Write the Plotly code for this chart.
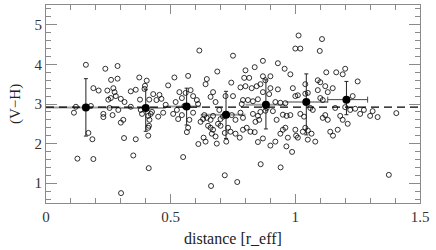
import plotly.graph_objects as go

# individual measurements (open circles)
pts = [
    (0.112,2.78),(0.12,2.93),(0.126,1.62),(0.16,3.99),(0.17,2.27),(0.186,2.11),(0.19,1.61),(0.19,3.40),(0.211,3.34),(0.18,2.95),
    (0.238,3.89),(0.287,3.96),(0.261,3.61),(0.287,3.64),(0.246,3.34),(0.27,3.40),(0.275,3.30),(0.25,3.11),(0.26,3.15),(0.28,3.20),
    (0.23,2.75),(0.267,2.72),(0.29,2.85),(0.23,2.67),(0.30,3.13),(0.255,2.90),
    (0.315,3.05),(0.34,3.32),(0.36,3.36),(0.374,3.67),(0.397,3.46),(0.377,3.11),(0.31,2.60),(0.30,2.53),(0.34,2.93),(0.313,2.14),
    (0.36,2.11),(0.35,1.70),(0.301,0.75),(0.38,2.85),(0.385,2.75),(0.395,3.38),
    (0.404,3.59),(0.414,3.11),(0.455,3.23),(0.463,3.13),(0.443,3.10),(0.49,3.47),(0.42,2.75),(0.425,2.80),(0.41,2.70),(0.415,2.60),
    (0.413,2.45),(0.41,2.20),(0.412,1.38),(0.41,2.40),(0.45,2.68),(0.47,2.78),(0.48,2.98),(0.43,3.25),
    (0.515,3.67),(0.57,3.71),(0.535,3.30),(0.56,3.28),(0.545,3.15),(0.52,3.05),(0.58,3.35),(0.59,3.20),(0.55,1.66),(0.565,2.29),
    (0.51,2.75),(0.53,2.62),(0.545,2.72),(0.57,2.40),(0.525,2.85),(0.59,2.78),(0.555,2.95),(0.575,2.60),
    (0.615,4.35),(0.645,3.63),(0.64,3.50),(0.67,3.30),(0.687,3.82),(0.66,3.18),(0.68,3.05),(0.611,1.99),(0.632,2.15),(0.66,2.40),
    (0.67,2.35),(0.665,2.25),(0.68,2.18),(0.685,2.00),(0.662,0.93),(0.63,2.62),(0.635,2.72),(0.645,2.65),(0.66,2.60),(0.67,2.70),
    (0.65,2.45),(0.69,2.50),(0.695,2.85),(0.61,3.00),(0.62,2.55),(0.64,2.05),(0.605,3.10),
    (0.717,2.27),(0.723,2.05),(0.717,1.20),(0.767,1.03),(0.777,2.15),(0.75,4.22),(0.743,3.54),(0.72,3.20),(0.75,3.20),(0.78,3.42),
    (0.79,3.10),(0.72,2.75),(0.745,2.72),(0.78,2.78),(0.70,2.62),(0.71,2.68),(0.73,2.40),(0.74,2.30),(0.76,2.25),(0.79,2.35),
    (0.70,2.45),(0.76,2.60),(0.79,2.65),(0.795,3.66),(0.785,3.00),
    (0.80,3.85),(0.837,3.93),(0.87,4.09),(0.815,3.66),(0.87,3.70),(0.88,3.60),(0.80,3.45),(0.825,3.40),(0.845,3.45),(0.86,3.50),
    (0.90,3.40),(0.81,3.10),(0.83,3.07),(0.85,3.12),(0.83,2.75),(0.85,2.70),(0.805,2.40),(0.837,2.29),(0.85,2.04),(0.87,2.13),
    (0.90,1.95),(0.861,1.48),(0.855,2.60),(0.84,2.55),(0.82,2.30),(0.88,2.83),(0.885,2.90),(0.895,3.25),(0.87,3.30),(0.86,2.80),
    (0.93,4.03),(0.957,3.89),(0.90,3.70),(0.98,3.75),(0.93,3.37),(0.99,3.40),(0.92,3.05),(0.94,3.03),(0.96,3.02),(0.91,2.82),
    (0.95,2.73),(0.965,2.70),(0.98,2.72),(0.941,1.40),(0.95,2.35),(0.96,2.40),(0.964,1.93),(0.987,1.79),(0.925,2.60),(0.94,2.25),
    (0.97,2.15),(0.92,2.05),
    (1.013,4.73),(1.00,4.40),(1.02,4.40),(1.098,4.34),(1.00,3.20),(1.01,3.22),(1.04,3.50),(1.04,3.26),(1.05,3.28),(1.00,2.35),
    (1.003,2.20),(1.03,2.30),(1.04,2.40),(1.05,2.33),(1.02,2.75),(1.035,2.68),(1.06,2.90),(1.07,2.85),(1.01,2.15),(1.05,2.10),
    (1.065,2.25),(1.08,2.05),(1.09,3.35),(1.09,3.60),
    (1.107,4.64),(1.124,3.80),(1.164,3.80),(1.19,3.75),(1.10,3.55),(1.12,3.45),(1.13,3.30),(1.15,3.40),(1.10,3.15),(1.11,3.10),
    (1.151,2.20),(1.17,2.35),(1.14,2.30),(1.11,2.65),(1.12,2.72),(1.13,2.60),(1.16,2.90),(1.18,2.70),(1.19,2.60),
    (1.20,3.89),(1.25,3.57),(1.20,2.92),(1.22,2.85),(1.24,2.88),(1.275,2.85),(1.31,2.82),(1.405,2.77),(1.30,2.70),(1.33,2.67),
    (1.375,1.21),(1.21,2.50),(1.23,3.20),(1.26,2.75),
]
dist = [p[0] for p in pts]
vh = [p[1] for p in pts]

# binned means
bin_x = [0.16, 0.40, 0.564, 0.722, 0.882, 1.044, 1.205]
bin_y = [2.91, 2.90, 2.94, 2.73, 2.98, 3.05, 3.11]
err_up = [0.73, 0.46, 0.46, 0.59, 0.63, 0.71, 0.46]
err_dn = [0.72, 0.59, 0.47, 0.60, 0.61, 0.83, 0.38]
bin_lo = [0.00, 0.30, 0.48, 0.62, 0.80, 0.96, 1.13]
bin_hi = [0.30, 0.48, 0.62, 0.80, 0.96, 1.13, 1.29]
mean_level = 2.92

xr = [0.0, 1.5]
yr = [0.5, 5.5]
x_ticks = [0, 0.5, 1, 1.5]
x_labels = ["0", "0.5", "1", "1.5"]
y_ticks = [1, 2, 3, 4, 5]
y_labels = ["1", "2", "3", "4", "5"]

SERIF = "Liberation Serif"

fig = go.Figure()

# grey horizontal bin extents
fig.add_trace(go.Scatter(
    x=bin_x[:-1], y=bin_y[:-1], mode="markers",
    marker=dict(size=1, color="rgba(0,0,0,0)"),
    error_x=dict(type="data", symmetric=False,
                 array=[h - c for h, c in zip(bin_hi[:-1], bin_x[:-1])],
                 arrayminus=[c - l for l, c in zip(bin_lo[:-1], bin_x[:-1])],
                 color="#a0a0a0", thickness=2, width=0),
    hoverinfo="skip", showlegend=False))

# mean level dashed line
fig.add_trace(go.Scatter(x=xr, y=[mean_level, mean_level], mode="lines",
                         line=dict(color="black", width=1.3, dash="8px,5px"),
                         showlegend=False))

# open circles
fig.add_trace(go.Scatter(x=dist, y=vh, mode="markers",
                         marker=dict(symbol="circle-open", size=5, color="black",
                                     line=dict(width=0.8, color="black")),
                         showlegend=False))

# last bin: horizontal bar with caps
fig.add_trace(go.Scatter(
    x=bin_x[-1:], y=bin_y[-1:], mode="markers",
    marker=dict(size=1, color="rgba(0,0,0,0)"),
    error_x=dict(type="data", symmetric=False,
                 array=[bin_hi[-1] - bin_x[-1]], arrayminus=[bin_x[-1] - bin_lo[-1]],
                 color="#444444", thickness=1, width=3),
    showlegend=False))

# filled binned points with vertical error bars
fig.add_trace(go.Scatter(
    x=bin_x, y=bin_y, mode="markers",
    marker=dict(symbol="circle", size=8, color="black"),
    error_y=dict(type="data", symmetric=False, array=err_up, arrayminus=err_dn,
                 color="#222222", thickness=1, width=2),
    showlegend=False))

axis_common = dict(
    showline=True, linecolor="#8a8a8a", linewidth=1, mirror="allticks",
    ticks="inside", tickcolor="#8a8a8a", showgrid=False, zeroline=False,
    automargin=False,
    tickfont=dict(family=SERIF, size=15, color="#333333"),
)

fig.update_xaxes(range=xr, ticklen=9, tickvals=x_ticks, ticktext=x_labels,
                 minor=dict(dtick=0.1, tick0=0, ticks="inside", ticklen=5, tickcolor="#8a8a8a"),
                 **axis_common)
fig.update_yaxes(range=yr, ticklen=11, tickvals=y_ticks, ticktext=y_labels,
                 minor=dict(dtick=0.2, tick0=0, ticks="inside", ticklen=5, tickcolor="#8a8a8a"),
                 **axis_common)

fig.update_layout(
    width=436, height=250, margin=dict(l=46, r=16, t=5, b=47, autoexpand=False),
    plot_bgcolor="white", paper_bgcolor="white",
    annotations=[
        dict(text="distance [r_eff]", xref="paper", yref="paper", x=0.5, y=-0.125,
             xanchor="center", yanchor="top", showarrow=False,
             font=dict(family=SERIF, size=16, color="#222222")),
        dict(text="(V−H)", xref="paper", yref="paper", x=-0.083, y=0.5,
             xanchor="center", yanchor="middle", textangle=-90, showarrow=False,
             font=dict(family=SERIF, size=15, color="#222222")),
    ],
)

fig.write_html("out.html", config={"displayModeBar": False},
               post_script="document.body.style.margin='0px';document.body.style.overflow='hidden';")
